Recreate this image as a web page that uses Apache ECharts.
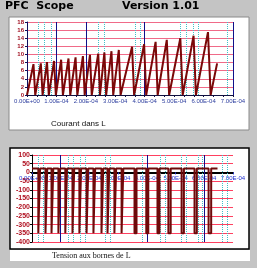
<!DOCTYPE html>
<html><head><meta charset="utf-8">
<script src="https://cdn.jsdelivr.net/npm/echarts@6/dist/echarts.min.js"></script>
<style>html,body{margin:0;padding:0;background:#c4c4c4}#c{width:257px;height:268px}</style>
</head><body><div id="c"></div>
<script>
// time axis in units of 1e-4 s
const xTickLabels = ['0.00E+00','1.00E-04','2.00E-04','3.00E-04','4.00E-04','5.00E-04','6.00E-04','7.00E-04'];
// current teeth: switch-off instants, peak currents, instants current returns to zero
const peakTimes  = [0.22,0.47,0.68,0.92,1.16,1.41,1.65,1.90,2.14,2.42,2.63,2.87,3.12,3.57,3.98,4.37,4.75,5.21,5.66,6.15];
const peakValues = [7.6,7.8,8.1,8.4,8.7,9.0,9.3,9.6,9.9,10.2,10.5,10.8,11.1,11.9,12.5,13.1,13.6,14.0,14.6,15.5];
const zeroTimes  = [0.28,0.53,0.74,0.98,1.22,1.47,1.71,1.96,2.20,2.48,2.69,2.93,3.18,3.64,4.05,4.44,4.83,5.29,5.74,6.24];
const lastRise   = [6.46, 7.8];
// inductor voltage levels (V)
const vOn = 22, vOff = -350;
// cursor lines
const topCursors = [1,2,4,7];
const topDotted = [0.37,0.58,0.82,2.41,2.62,3.67,3.84,5.2,5.41,5.65,5.82,6.8];
const botCursors = [1,4,6];
const botDotted = [0.21,0.38,1.25,1.43,1.67,1.85,2.54,2.72,3.83,4.0,4.46,4.63,5.19,5.37,5.78,5.92,6.62,6.79];
const vMin = -400, vMax = 100;

const currentData = [[0,0]];
const voltageData = [[0,vOn]];
for (let i=0;i<peakTimes.length;i++){
  currentData.push([peakTimes[i],peakValues[i]]);
  currentData.push([zeroTimes[i],0]);
  voltageData.push([peakTimes[i],vOn],[peakTimes[i],vOff],[zeroTimes[i],vOff],[zeroTimes[i],vOn]);
}
currentData.push(lastRise);
voltageData.push([lastRise[0],vOn]);

const chart = echarts.init(document.getElementById('c'));
const fmt = v => xTickLabels[Math.round(v)] || '';
const ml = (arr,color,type)=>({silent:true,symbol:'none',label:{show:false},animation:false,
  lineStyle:{color:color,type:type,width:1},data:arr.map(v=>({xAxis:v}))});
const botH = 87;
const zeroOffset = -botH * (0 - vMin) / (vMax - vMin);

chart.setOption({
  backgroundColor:'#c4c4c4',
  animation:false,
  graphic:[
    {type:'rect',z:-5,shape:{x:9,y:17,width:240,height:113},style:{fill:'#ffffff',stroke:'#8a8a8a',lineWidth:1}},
    {type:'rect',z:-5,shape:{x:10,y:148,width:239,height:101},style:{fill:'#ffffff',stroke:'#000000',lineWidth:1.5}},
    {type:'rect',z:-5,shape:{x:10,y:250,width:240,height:11},style:{fill:'#ffffff'}},
    {type:'text',left:5,top:1,style:{text:'PFC  Scope',font:'bold 11px "DejaVu Sans"',fill:'#000'}},
    {type:'text',left:122,top:1,style:{text:'Version 1.01',font:'bold 11px "DejaVu Sans"',fill:'#000'}},
    {type:'text',left:51,top:120,style:{text:'Courant dans L',font:'8px "Liberation Sans"',fill:'#111'}},
    {type:'text',left:52,top:252,style:{text:'Tension aux bornes de L',font:'8px "Liberation Serif"',fill:'#111'}}
  ],
  grid:[
    {left:27,right:24,top:22,height:73},
    {left:32,right:24,top:155,height:botH}
  ],
  xAxis:[
    {gridIndex:0,type:'value',min:0,max:7,interval:1,
      axisLine:{lineStyle:{color:'#101040',width:1}},
      axisTick:{show:true,length:2,lineStyle:{color:'#101040'}},
      minorTick:{show:true,splitNumber:3,length:2,lineStyle:{color:'#101040'}},
      splitLine:{show:false},
      axisLabel:{formatter:fmt,fontSize:6,fontFamily:'Liberation Sans',color:'#3040a0',margin:3}},
    {gridIndex:1,type:'value',min:0,max:7,interval:1,offset:zeroOffset,
      axisLine:{onZero:false,lineStyle:{color:'#000',width:2}},
      axisTick:{show:true,length:2,lineStyle:{color:'#2030d0'}},
      splitLine:{show:false},
      axisLabel:{formatter:fmt,fontSize:6,fontFamily:'Liberation Sans',color:'#2030d0',margin:3}}
  ],
  yAxis:[
    {gridIndex:0,type:'value',min:0,max:18,interval:2,
      axisLine:{show:true,lineStyle:{color:'#101060',width:1}},
      axisTick:{show:true,length:2,lineStyle:{color:'#101060'}},
      splitLine:{lineStyle:{color:'#f06a88',width:1}},
      axisLabel:{fontSize:6,fontWeight:'bold',fontFamily:'Liberation Sans',color:'#a01020',margin:3}},
    {gridIndex:1,type:'value',min:vMin,max:vMax,interval:50,
      axisLine:{show:true,onZero:false,lineStyle:{color:'#000',width:1}},
      axisTick:{show:true,length:2,lineStyle:{color:'#000'}},
      splitLine:{lineStyle:{color:'#ff4060',width:1}},
      axisLabel:{fontSize:7,fontWeight:'bold',fontFamily:'Liberation Sans',color:'#b01020',margin:2}}
  ],
  series:[
    {type:'line',xAxisIndex:0,yAxisIndex:0,data:[],symbol:'none',markLine:ml(topDotted,'#40c0c8','dotted')},
    {type:'line',xAxisIndex:0,yAxisIndex:0,data:[],symbol:'none',markLine:ml(topCursors,'#10108a','solid')},
    {type:'line',xAxisIndex:0,yAxisIndex:0,data:currentData,symbol:'none',z:5,
      lineStyle:{color:'#7a0808',width:2}},
    {type:'line',xAxisIndex:1,yAxisIndex:1,data:[],symbol:'none',markLine:ml(botDotted,'#40c0c8','dotted')},
    {type:'line',xAxisIndex:1,yAxisIndex:1,data:[],symbol:'none',markLine:ml(botCursors,'#10108a','solid')},
    {type:'line',xAxisIndex:1,yAxisIndex:1,data:voltageData,symbol:'none',z:5,
      lineStyle:{color:'#6e0a0a',width:2}}
  ]
});
</script></body></html>
